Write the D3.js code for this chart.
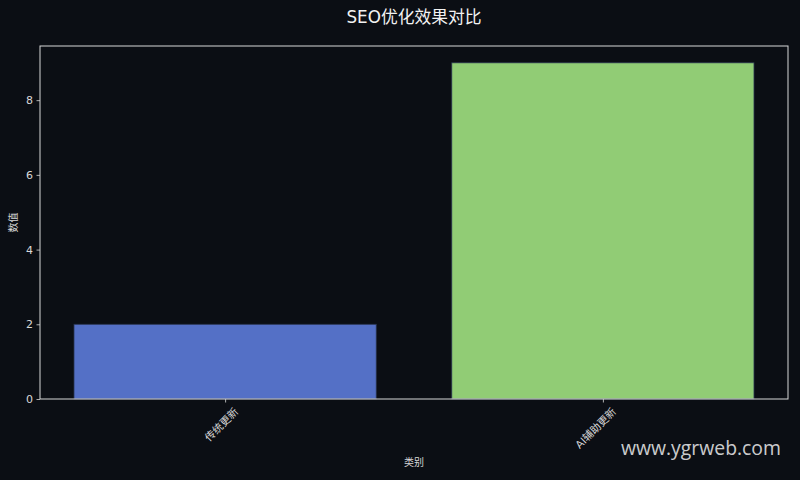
<!DOCTYPE html>
<html>
<head>
<meta charset="utf-8">
<script src="https://cdn.jsdelivr.net/npm/d3@7/dist/d3.min.js"></script>
<style>
  html, body { margin: 0; padding: 0; background: #0b0e14; }
</style>
</head>
<body>
<div id="chart"></div>
<script>
(function () {
  // chart data
  const categories = ["传统更新", "AI辅助更新"];
  const values = [2, 9];
  const barColors = ["#5470c6", "#91cc75"];
  const yTicks = [0, 2, 4, 6, 8];

  const width = 800;
  const height = 480;
  const margin = { top: 46, right: 12, bottom: 81, left: 40 };
  const innerW = width - margin.left - margin.right;
  const innerH = height - margin.top - margin.bottom;
  const fg = "#d8d8d8";
  const latin = "'DejaVu Sans', 'Noto Sans CJK SC', sans-serif";
  const cjk = "'DejaVu Sans', 'Noto Sans CJK SC', sans-serif";

  const svg = d3
    .select("#chart")
    .append("svg")
    .attr("width", width)
    .attr("height", height)
    .style("display", "block");

  svg.append("rect").attr("width", width).attr("height", height).attr("fill", "#0b0e14");

  // matplotlib-like x range: bars of width 0.8, 5% margins
  const x = d3.scaleLinear().domain([-0.49, categories.length - 1 + 0.49]).range([0, innerW]);
  const y = d3.scaleLinear().domain([0, d3.max(values) * 1.05]).range([innerH, 0]);
  const barW = x(0.8) - x(0);

  const g = svg.append("g").attr("transform", `translate(${margin.left},${margin.top})`);

  g.selectAll("rect.bar")
    .data(values)
    .enter()
    .append("rect")
    .attr("class", "bar")
    .attr("x", (d, i) => x(i) - barW / 2)
    .attr("y", (d) => y(d))
    .attr("width", barW)
    .attr("height", (d) => y(0) - y(d))
    .attr("fill", (d, i) => barColors[i])
    .attr("stroke", "#2a3550")
    .attr("stroke-width", 0.8);

  // axes
  const yAxis = g.append("g")
    .call(d3.axisLeft(y).tickValues(yTicks).tickSize(3.5).tickPadding(3.5));
  const xAxis = g.append("g")
    .attr("transform", `translate(0,${innerH})`)
    .call(d3.axisBottom(x).tickValues(categories.map((c, i) => i)).tickFormat((i) => categories[i]).tickSize(3.5).tickPadding(3.5));

  [yAxis, xAxis].forEach((ax) => {
    ax.attr("font-family", latin);
    ax.select(".domain").remove();
    ax.selectAll(".tick line").attr("stroke", fg).attr("stroke-width", 0.8);
    ax.selectAll(".tick text").attr("fill", fg).attr("font-size", 11);
  });

  xAxis.selectAll(".tick text")
    .attr("font-family", cjk)
    .attr("font-size", 10.5)
    .attr("text-anchor", "end")
    .attr("dy", "0.6em")
    .attr("transform", "translate(4,4) rotate(-45)");

  // frame (spines)
  g.append("rect")
    .attr("width", innerW)
    .attr("height", innerH)
    .attr("fill", "none")
    .attr("stroke", fg)
    .attr("stroke-width", 1);

  // title and labels
  svg.append("text")
    .attr("x", margin.left + innerW / 2)
    .attr("y", 23)
    .attr("text-anchor", "middle")
    .attr("font-family", cjk)
    .attr("font-size", 16.8)
    .attr("fill", "#f2f2f2")
    .text("SEO优化效果对比");

  svg.append("text")
    .attr("transform", `translate(17,${margin.top + innerH / 2}) rotate(-90)`)
    .attr("text-anchor", "middle")
    .attr("font-family", cjk)
    .attr("font-size", 10)
    .attr("fill", fg)
    .text("数值");

  svg.append("text")
    .attr("x", margin.left + innerW / 2)
    .attr("y", 466)
    .attr("text-anchor", "middle")
    .attr("font-family", cjk)
    .attr("font-size", 10)
    .attr("fill", fg)
    .text("类别");

  // watermark
  svg.append("text")
    .attr("x", 781)
    .attr("y", 455)
    .attr("text-anchor", "end")
    .attr("font-family", "'Open Sans', 'Noto Sans', sans-serif")
    .attr("font-size", 19.4)
    .attr("fill", "#ffffff")
    .attr("fill-opacity", 0.8)
    .text("www.ygrweb.com");
})();
</script>
</body>
</html>
